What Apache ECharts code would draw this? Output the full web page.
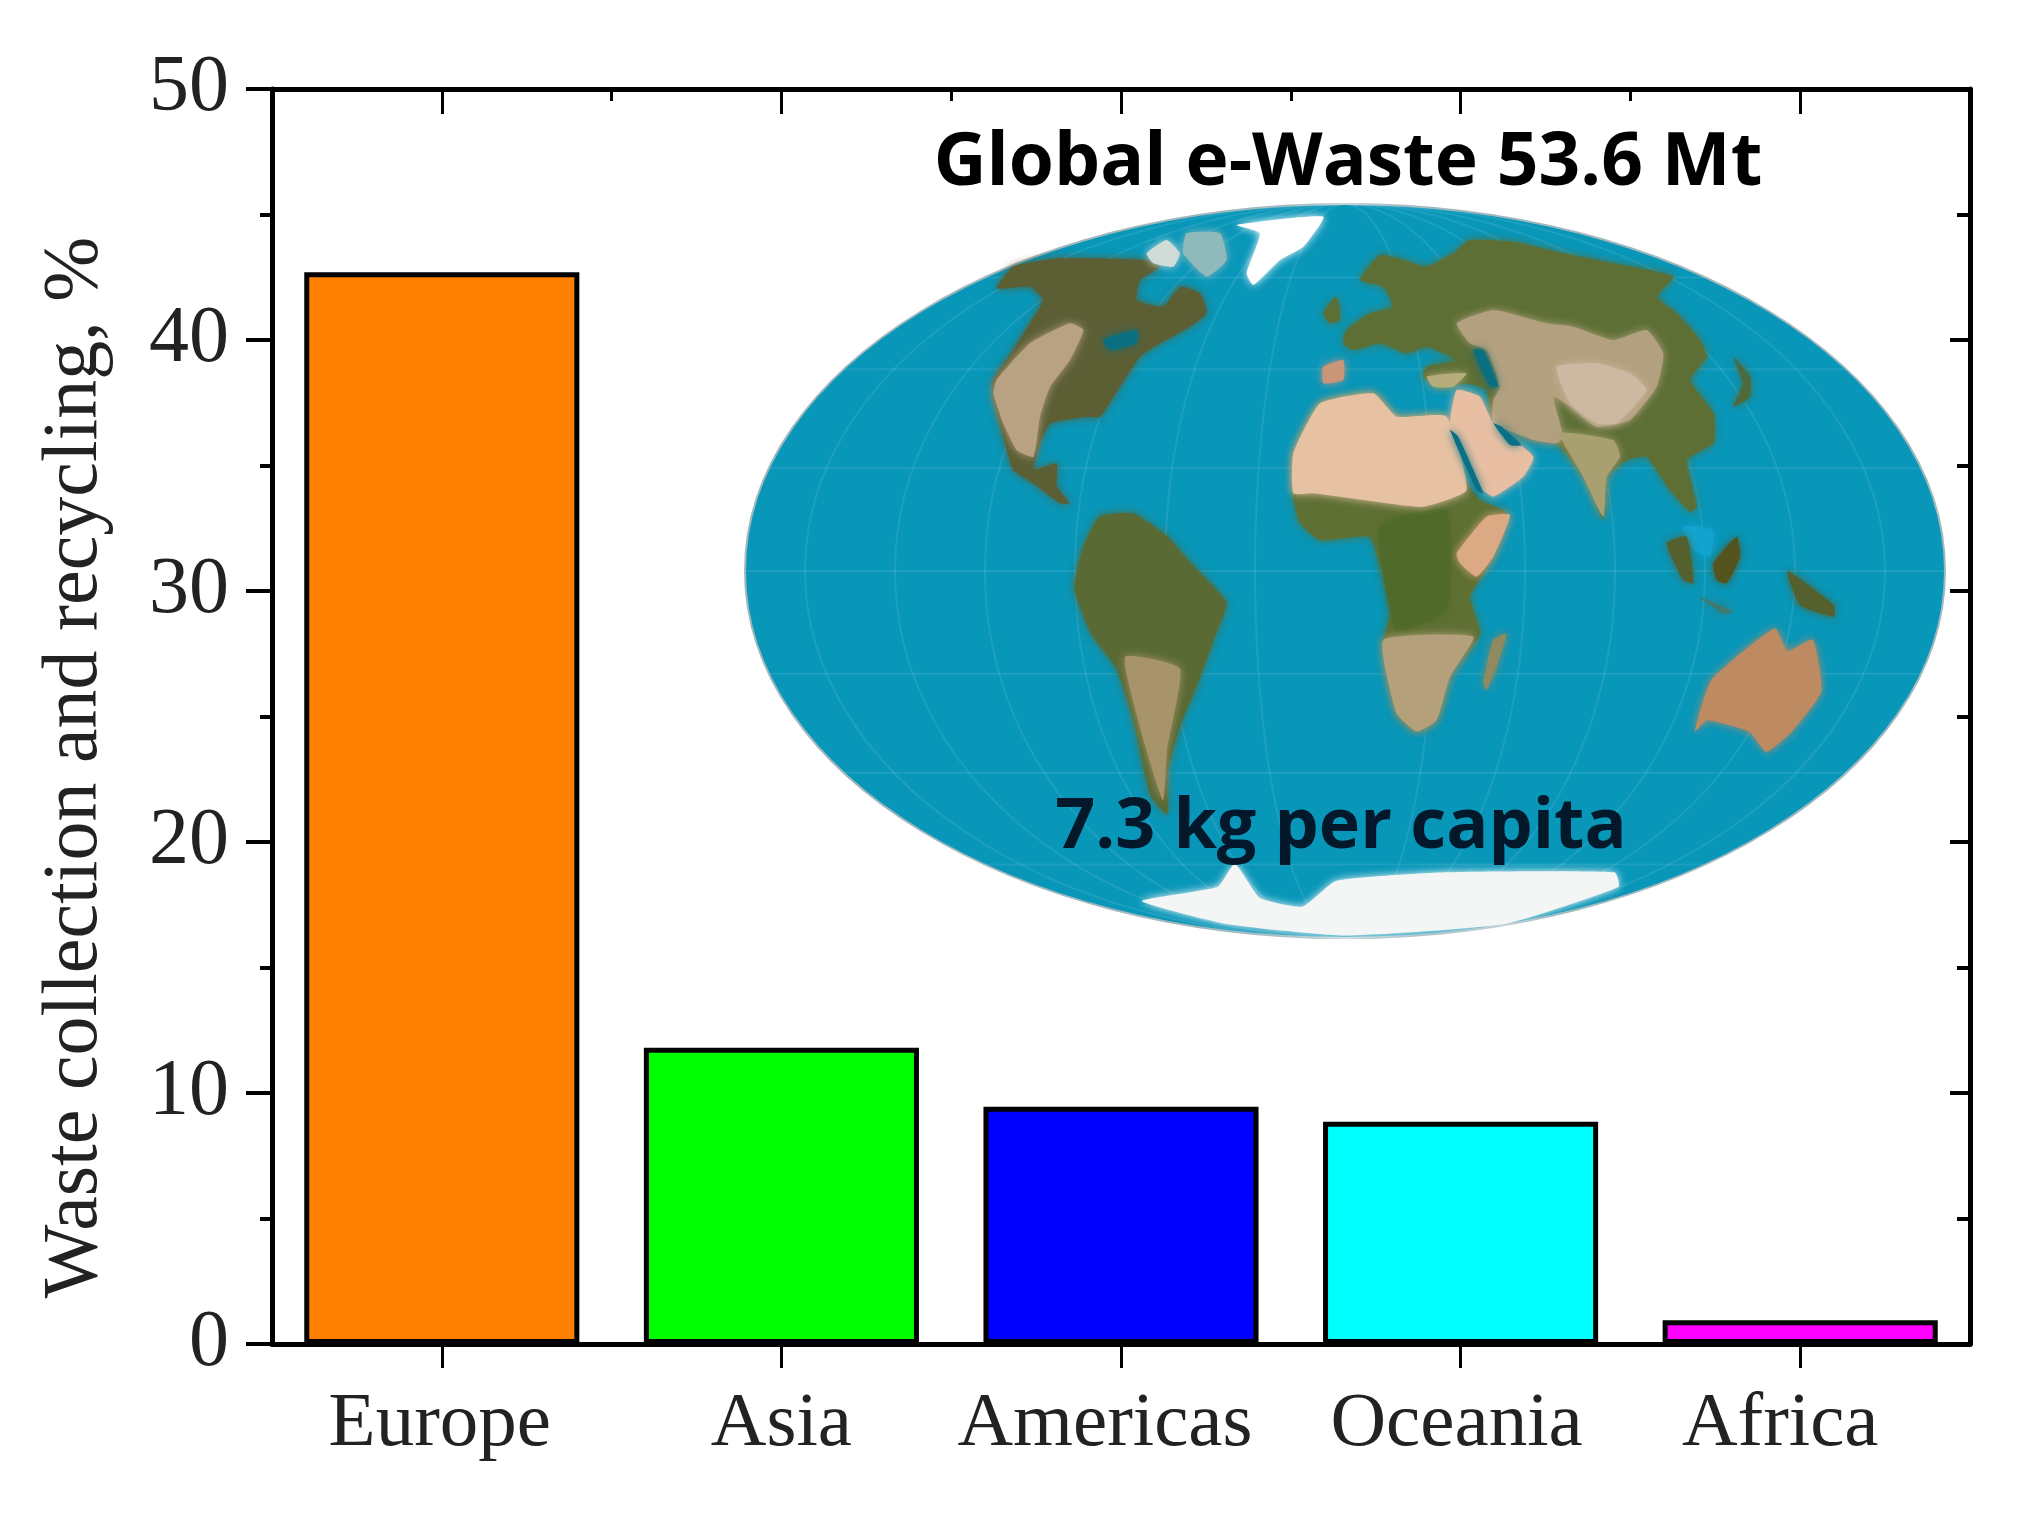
<!DOCTYPE html>
<html lang="en">
<head>
    <meta charset="utf-8">
    <title>Waste collection and recycling</title>
    <script src="https://cdn.jsdelivr.net/npm/echarts@6/dist/echarts.min.js"></script>
    <style>
        html, body { margin: 0; padding: 0; background: #fff; }
        #chartMain { width: 2043px; height: 1515px; }
    </style>
</head>
<body>
<div id="chartMain"></div>
<script type="text/javascript">
    var categories = ['Europe', 'Asia', 'Americas', 'Oceania', 'Africa'];
    var collected = [42.7, 11.8, 9.45, 8.85, 0.95];
    var barColors = ['#ff8000', '#00ff00', '#0000ff', '#00ffff', '#ff00ff'];
    var labelNudge = [4, 0, 32, 8, 40];

    var SERIF = '"Liberation Serif", serif';
    var SANS = '"Open Sans", "Noto Sans", sans-serif';

    // inset map outlines, traced by eye from zoomed crops of the reference
    // crop: [left, top, xscale, yscale]
    var crops = {
        A: [1280, 210, 3, 3],
        B: [960, 210, 3, 3],
        C: [720, 60, 1.185, 1.742]
    };
    var land = [
        // north america
        ['#5c5f34', 'B', [[110,235],[160,170],[300,145],[560,150],[600,170],[540,210],[530,270],[610,290],[660,230],[720,250],[740,310],[690,350],[600,400],[540,440],[480,530],[420,620],[380,620],[270,640],[240,700],[220,780],[290,760],[290,830],[330,880],[300,880],[220,820],[160,780],[130,680],[100,560],[100,510],[160,420],[210,340],[250,270],[210,230]]],
        ['#b9a282', 'B', [[210,400],[330,340],[370,360],[330,450],[270,530],[240,620],[220,740],[170,720],[130,640],[100,550],[110,510]]],
        ['#0a6f80', 'B', [[430,390],[530,360],[530,400],[450,420]]],
        ['#cfdcd8', 'B', [[560,130],[620,90],[660,130],[640,170],[580,160]]],
        ['#8fb9bb', 'B', [[680,70],[780,70],[800,150],[740,200],[670,130]]],
        ['#ffffff', 'B', [[860,190],[900,70],[830,45],[1090,20],[1030,110],[960,150],[880,225]]],
        // south america
        ['#5a6a34', 'C', [[450,795],[490,790],[530,830],[560,880],[600,945],[585,1010],[565,1090],[545,1160],[530,1240],[530,1315],[510,1280],[490,1150],[470,1060],[440,1000],[420,920],[430,850]]],
        ['#a8946a', 'C', [[480,1040],[545,1060],[530,1200],[525,1290],[505,1200]]],
        // africa
        ['#5f7034', 'A', [[40,860],[40,730],[120,580],[280,550],[350,620],[500,620],[550,800],[600,870],[680,910],[640,1040],[570,1160],[600,1270],[510,1400],[470,1530],[410,1565],[350,1510],[310,1300],[340,1180],[300,1060],[270,980],[120,990],[60,940]]],
        ['#4f6a2a', 'A', [[300,950],[500,900],[500,1200],[350,1260]]],
        ['#e6c2a2', 'A', [[40,850],[40,730],[120,580],[280,550],[350,620],[500,620],[560,840],[430,890],[250,870],[100,850]]],
        ['#dca985', 'A', [[530,1030],[620,920],[690,915],[640,1040],[590,1100],[540,1060]]],
        ['#b5a07c', 'A', [[310,1290],[580,1280],[510,1400],[470,1530],[410,1565],[350,1510]]],
        ['#8f8a60', 'A', [[640,1290],[680,1270],[650,1370],[620,1440],[610,1420]]],
        // eurasia
        ['#5d6f35', 'A', [[240,210],[300,135],[370,150],[440,170],[520,130],[570,90],[700,95],[850,130],[1000,160],[1180,200],[1130,260],[1190,310],[1260,390],[1280,440],[1230,510],[1300,610],[1300,700],[1220,750],[1250,890],[1230,905],[1170,840],[1100,740],[1040,750],[980,800],[970,930],[920,810],[830,700],[760,690],[640,640],[620,540],[560,520],[480,530],[430,500],[440,470],[530,450],[440,410],[380,430],[300,400],[220,420],[190,400],[200,360],[270,310],[340,290],[310,230]]],
        ['#b2a07e', 'A', [[530,340],[640,300],[800,340],[880,350],[1000,390],[1100,360],[1150,430],[1130,530],[1050,630],[950,650],[870,590],[820,560],[850,680],[830,700],[760,690],[640,640],[640,570],[660,530],[620,420],[570,400]]],
        ['#cdb8a2', 'A', [[830,470],[950,460],[1050,490],[1100,540],[1010,640],[950,640],[870,580]]],
        ['#a8a070', 'A', [[840,670],[1000,690],[1020,740],[980,800],[970,920],[910,800]]],
        ['#e8bfa2', 'A', [[530,540],[600,560],[640,640],[760,740],[730,800],[640,860],[610,840],[560,740],[510,650]]],
        ['#b7ad7c', 'A', [[440,500],[560,490],[520,530],[460,530]]],
        ['#c9967a', 'A', [[130,470],[190,450],[190,510],[130,520]]],
        ['#5d6f35', 'A', [[130,310],[170,260],[180,330],[150,340]]],
        ['#0a6f80', 'A', [[580,420],[610,420],[655,530],[630,530]]],
        ['#0a7086', 'A', [[640,640],[665,650],[725,705],[690,705]]],
        ['#0a7086', 'A', [[510,660],[535,680],[610,850],[590,840]]],
        ['#4f6a3a', 'A', [[1360,440],[1410,500],[1410,560],[1360,590],[1390,520]]],
        // south east asia
        ['#12a4d0', 'A', [[1210,950],[1300,960],[1290,1040],[1240,1020]]],
        ['#55541f', 'A', [[1300,1060],[1370,980],[1380,1040],[1340,1120],[1310,1110]]],
        ['#55602f', 'A', [[1160,1000],[1220,980],[1240,1120],[1210,1110]]],
        ['#55602f', 'C', [[1265,890],[1320,950],[1320,970],[1280,950]]],
        ['#3f7a6c', 'C', [[1160,935],[1200,960],[1190,965]]],
        // australia
        ['#bd8a62', 'C', [[1155,1170],[1175,1080],[1250,990],[1265,1030],[1295,1010],[1305,1100],[1270,1170],[1240,1205],[1220,1170],[1170,1150]]],
        // antarctica
        ['#f3f6f5', 'C', [[500,1465],[590,1440],[610,1400],[640,1460],[690,1475],[730,1430],[860,1415],[1060,1415],[1065,1440],[930,1505],[740,1525],[600,1505]]]
    ];

    var MAP_CX = 1345, MAP_CY = 571, MAP_RX = 600, MAP_RY = 367;

    function tracePoint(crop, p) {
        var c = crops[crop];
        return [c[0] + p[0] / c[2], c[1] + p[1] / c[3]];
    }

    function buildMap() {
        var items = [{
            type: 'ellipse',
            shape: { cx: MAP_CX, cy: MAP_CY, rx: MAP_RX, ry: MAP_RY },
            style: { fill: '#0896b9', stroke: '#9fb7bd', lineWidth: 2 },
            z: 10
        }];
        // graticule
        [0.15, 0.3, 0.45, 0.6, 0.75, 0.9].forEach(function (f) {
            items.push({
                type: 'ellipse',
                shape: { cx: MAP_CX, cy: MAP_CY, rx: MAP_RX * f, ry: MAP_RY },
                style: { fill: 'none', stroke: 'rgba(255,255,255,0.09)', lineWidth: 2 },
                z: 11
            });
        });
        [-0.8, -0.55, -0.28, 0, 0.28, 0.55, 0.8].forEach(function (f) {
            var half = MAP_RX * Math.sqrt(1 - f * f);
            var y = MAP_CY + MAP_RY * f;
            items.push({
                type: 'line',
                shape: { x1: MAP_CX - half, y1: y, x2: MAP_CX + half, y2: y },
                style: { stroke: 'rgba(255,255,255,0.09)', lineWidth: 2 },
                z: 11
            });
        });
        land.forEach(function (piece) {
            items.push({
                type: 'polygon',
                shape: {
                    points: piece[2].map(function (p) { return tracePoint(piece[1], p); }),
                    smooth: 0.15
                },
                style: { fill: piece[0], shadowBlur: 8, shadowColor: piece[0] },
                z: 12
            });
        });
        items.push({
            type: 'text',
            style: {
                x: 1348, y: 164, text: 'Global e-Waste 53.6 Mt', align: 'center', verticalAlign: 'middle',
                font: 'bold 73px ' + SANS, fill: '#000'
            },
            z: 20
        });
        items.push({
            type: 'text',
            style: {
                x: 1341, y: 828, text: '7.3 kg per capita', align: 'center', verticalAlign: 'middle',
                font: 'bold 70px ' + SANS, fill: '#04182b'
            },
            z: 20
        });
        return items;
    }

    var chart = echarts.init(document.getElementById('chartMain'), null, { renderer: 'canvas' });

    var frameLine = { show: true, onZero: false, lineStyle: { color: '#000', width: 5 } };

    chart.setOption({
        animation: false,
        backgroundColor: '#fff',
        grid: { left: 272, right: 73, top: 89, height: 1255 },
        xAxis: [{
            type: 'category',
            position: 'bottom',
            data: categories.map(function (name, i) {
                return { value: name, textStyle: { padding: [0, labelNudge[i], 0, 0] } };
            }),
            axisLine: frameLine,
            axisTick: { show: true, interval: 0, alignWithLabel: true, length: 24, lineStyle: { color: '#000', width: 3 } },
            axisLabel: { interval: 0, fontFamily: SERIF, fontSize: 77, color: '#222', margin: 42 }
        }, {
            // top frame: band edges are the short ticks, band centres the long ones
            type: 'value',
            position: 'top',
            min: 0,
            max: categories.length,
            interval: 1,
            axisLine: frameLine,
            axisLabel: { show: false },
            splitLine: { show: false },
            minorSplitLine: { show: false },
            axisTick: { show: true, inside: true, length: 12, lineStyle: { color: '#000', width: 3 } },
            minorTick: { show: true, splitNumber: 2, length: 25, lineStyle: { color: '#000', width: 3 } }
        }],
        yAxis: [{
            type: 'value',
            min: 0,
            max: 50,
            interval: 10,
            name: 'Waste collection and recycling, %',
            nameLocation: 'middle',
            nameGap: 157,
            nameTextStyle: { fontFamily: SERIF, fontSize: 78, color: '#222', padding: [0, 102, 0, 0] },
            axisLine: frameLine,
            axisTick: { show: true, length: 26, lineStyle: { color: '#000', width: 4 } },
            minorTick: { show: true, splitNumber: 2, length: 12, lineStyle: { color: '#000', width: 4 } },
            splitLine: { show: false },
            minorSplitLine: { show: false },
            axisLabel: { fontFamily: SERIF, fontSize: 80, color: '#222', margin: 43 }
        }, {
            type: 'value',
            position: 'right',
            min: 0,
            max: 50,
            interval: 10,
            axisLine: frameLine,
            axisLabel: { show: false },
            axisTick: { show: true, inside: true, length: 20, lineStyle: { color: '#000', width: 4 } },
            minorTick: { show: true, splitNumber: 2, length: 13, lineStyle: { color: '#000', width: 4 } },
            splitLine: { show: false },
            minorSplitLine: { show: false }
        }],
        series: [{
            type: 'bar',
            barWidth: '81%',
            data: collected.map(function (v, i) {
                return { value: v, itemStyle: { color: barColors[i], borderColor: '#000', borderWidth: 5 } };
            })
        }],
        graphic: buildMap()
    });
</script>
</body>
</html>
